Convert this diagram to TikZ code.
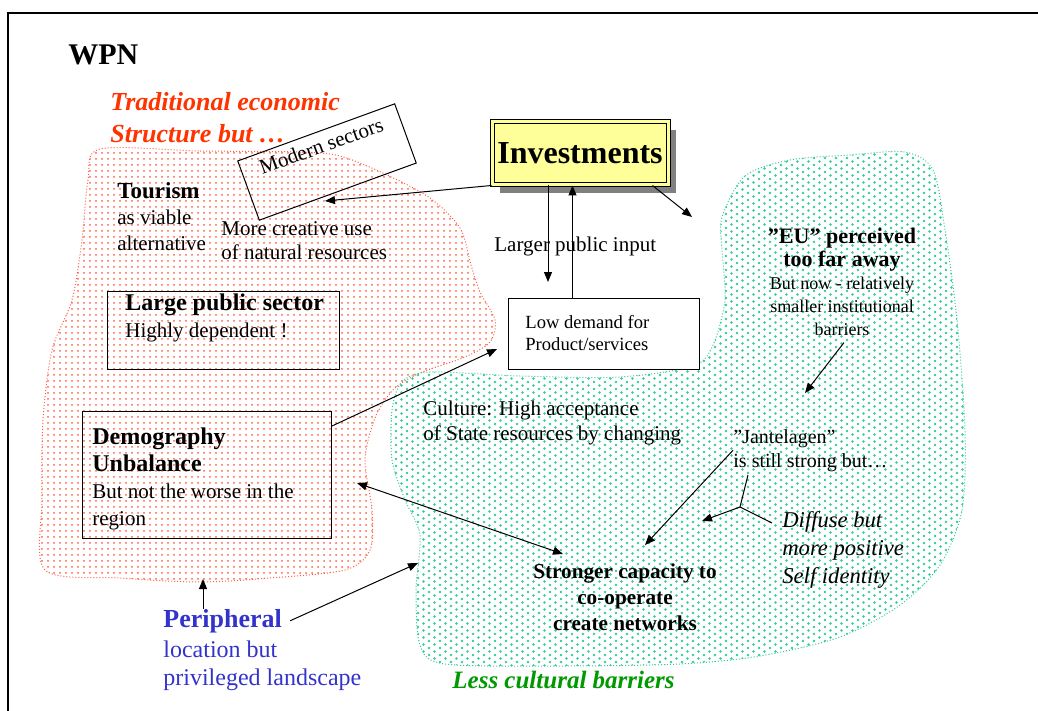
\documentclass[tikz,border=0pt]{standalone}
\usepackage{fontspec}
\setmainfont{Liberation Serif}
\usetikzlibrary{arrows.meta,patterns,shadows}

\definecolor{tradred}{RGB}{255,51,0}
\definecolor{dotred}{RGB}{255,95,70}
\definecolor{cultgreen}{RGB}{0,153,0}
\definecolor{mint}{RGB}{51,204,153}
\definecolor{periblue}{RGB}{51,51,204}
\definecolor{invyellow}{RGB}{255,255,153}

\pgfdeclarepatternformonly{mintdots}{\pgfqpoint{-1pt}{-1pt}}{\pgfqpoint{6.5pt}{4.5pt}}{\pgfqpoint{5.5pt}{3.5pt}}{%
  \pgfpathcircle{\pgfqpoint{0pt}{0pt}}{.65pt}
  \pgfpathcircle{\pgfqpoint{2.75pt}{1.75pt}}{.65pt}
  \pgfusepath{fill}}

\newcommand{\fs}[2]{\fontsize{#1}{#2}\selectfont}

\begin{document}
\begin{tikzpicture}[x=0.5pt,y=-0.5pt,>={Triangle[length=5pt,width=4pt]},
  box/.style={draw,line width=0.5pt,inner sep=0pt},
  txt/.style={inner sep=0pt,align=left},
  arr/.style={->,line width=0.5pt},
  blob/.style={line width=0.5pt,densely dotted}]
  \useasboundingbox (0,0) rectangle (1038,711);
  \draw[line width=1pt] (1038,13) -- (8,13) -- (8,711);

  % the two regions
  \draw[blob,draw=dotred,pattern=dots,pattern color=dotred] plot[smooth cycle,tension=0.5] coordinates {
    (100,149) (200,151) (300,152) (340,156) (385,174) (430,198) (460,228) (471,265)
    (480,292) (495,320) (490,342) (465,357) (420,373) (393,390) (375,418) (365,460)
    (372,510) (370,550) (345,570) (270,578) (200,582) (120,578) (45,570) (42,500)
    (43,420) (52,350) (72,300) (82,240) (88,180)};
  \draw[blob,draw=mint,pattern=mintdots,pattern color=mint] plot[smooth cycle,tension=0.5] coordinates {
    (722,217) (745,176) (790,160) (850,155) (905,152) (933,170) (945,230) (957,320)
    (965,430) (962,510) (940,565) (900,605) (840,637) (760,656) (680,664) (560,666)
    (445,664) (420,645) (416,590) (420,535) (405,500) (392,460) (392,410) (402,382)
    (430,372) (520,376) (620,377) (693,366) (713,345) (725,300) (722,250)};

  % base anchors of the text blocks sit on their last line
  \node[txt,anchor=base west,font=\fs{15}{18}\bfseries] (wpn) at (68,65) {WPN};
  \node[txt,anchor=base west,text=tradred,font=\fs{13}{16}\bfseries\itshape] (trad) at (110,143)
    {Traditional economic\\Structure but …};

  \node[box,rotate=20,minimum width=83.5pt,minimum height=31.5pt] (modern) at (327,162) {};
  \node[rotate=20,anchor=north,inner sep=3.5pt,font=\fs{10.5}{12}] (modlbl) at (modern.north) {Modern sectors};

  \node[txt,anchor=base west,font=\fs{10.5}{13}] (tourism) at (117,250)
    {{\fs{11.5}{13}\bfseries Tourism}\\as viable\\alternative};
  \node[txt,anchor=base west,font=\fs{10.5}{12.5}] (creative) at (221,260)
    {More creative use\\of natural resources};

  \node[box,anchor=north west,minimum width=116pt,minimum height=39pt] (public) at (107,291) {};
  \node[txt,anchor=base west,font=\fs{10.5}{13.5}] (publbl) at (125,337)
    {{\fs{12}{13.5}\bfseries Large public sector}\\Highly dependent !};

  \node[box,anchor=north west,minimum width=124.5pt,minimum height=63.5pt] (demo) at (82,411) {};
  \node[txt,anchor=base west,font=\fs{10.5}{13.5}] (demolbl) at (92,525)
    {{\fs{12}{14}\bfseries Demography}\\{\fs{12}{14}\bfseries Unbalance}\\But not the worse in the\\region};

  \node[box,fill=invyellow,double=invyellow,double distance=1.5pt,
    drop shadow={shadow xshift=4pt,shadow yshift=-4pt,fill=gray,opacity=1},
    minimum width=88pt,minimum height=31.5pt,font=\fs{16}{18}\bfseries] (invest) at (580,153.5) {Investments};

  \node[box,fill=white,anchor=north west,minimum width=95.5pt,minimum height=35.5pt] (low) at (508,298) {};
  \node[txt,anchor=base west,font=\fs{9.3}{10.5}] (lowlbl) at (525,350) {Low demand for\\Product/services};
  \node[txt,anchor=base west,font=\fs{10.5}{12}] (larger) at (494,252) {Larger public input};

  \node[txt,align=center,anchor=base,font=\fs{9}{11.5}] (eu) at (842,335)
    {{\fs{11}{12.5}\bfseries ”EU” perceived}\\{\fs{11}{12.5}\bfseries too far away}\\But now - relatively\\smaller institutional\\barriers};
  \node[txt,anchor=base west,font=\fs{10.5}{12.5}] (culture) at (423,440)
    {Culture: High acceptance\\of State resources by changing};
  \node[txt,anchor=base west,font=\fs{10}{12}] (jante) at (733,467) {”Jantelagen”\\is still strong but…};
  \node[txt,anchor=base west,font=\fs{11.3}{14}\itshape] (diffuse) at (782,583)
    {Diffuse but\\more positive\\Self identity};
  \node[txt,align=center,anchor=base,font=\fs{10.6}{12.8}\bfseries] (stronger) at (625,630)
    {Stronger capacity to\\co-operate\\create networks};
  \node[txt,anchor=base west,text=cultgreen,font=\fs{12.5}{14}\bfseries\itshape] (less) at (452,688)
    {Less cultural barriers};

  \node[txt,anchor=base west,text=periblue,font=\fs{13}{14.5}\bfseries] (peri) at (163,627) {Peripheral};
  \node[txt,anchor=base west,text=periblue,font=\fs{12}{14}] (perisub) at (163,685)
    {location but\\privileged landscape};

  % arrow ends
  \coordinate (modIn) at (325,201);
  \coordinate (inDown) at (548,282);
  \coordinate (inRight) at (692,217);
  \coordinate (lowIn) at (497,349);
  \coordinate (euTip) at (805,393);
  \coordinate (janteTip) at (645,545);
  \coordinate (forkTop) at (748,475);
  \coordinate (fork) at (740,507);
  \coordinate (forkEnd) at (772,523);
  \coordinate (forkTip) at (702,521);
  \coordinate (demoTip) at (357,483);
  \coordinate (strongTip) at (563,554);
  \coordinate (tradTip) at (203,579);
  \coordinate (cultTip) at (418,563);

  \draw[arr] (invest.south west) -- (modIn);
  \draw[arr] (invest.south -| inDown) -- (inDown);
  \draw[arr] ([xshift=-15.75pt]low.north) -- ([xshift=-15.75pt]low.north |- invest.south);
  \draw[arr] ([xshift=-8pt]invest.south east) -- (inRight);
  \draw[arr] ([yshift=-7.5pt]demo.north east) -- (lowIn);
  \draw[arr] ([xshift=1pt,yshift=-3.5pt]eu.south) -- (euTip);
  \draw[arr] (jante.west) -- (janteTip);
  \draw[line width=0.5pt] (forkTop) -- (fork) -- (forkEnd);
  \draw[arr] (fork) -- (forkTip);
  \draw[arr,<->] (demoTip) -- (strongTip);
  \draw[arr] (peri.north -| tradTip) -- (tradTip);
  \draw[arr] ([xshift=4pt]peri.east) -- (cultTip);
\end{tikzpicture}
\end{document}
